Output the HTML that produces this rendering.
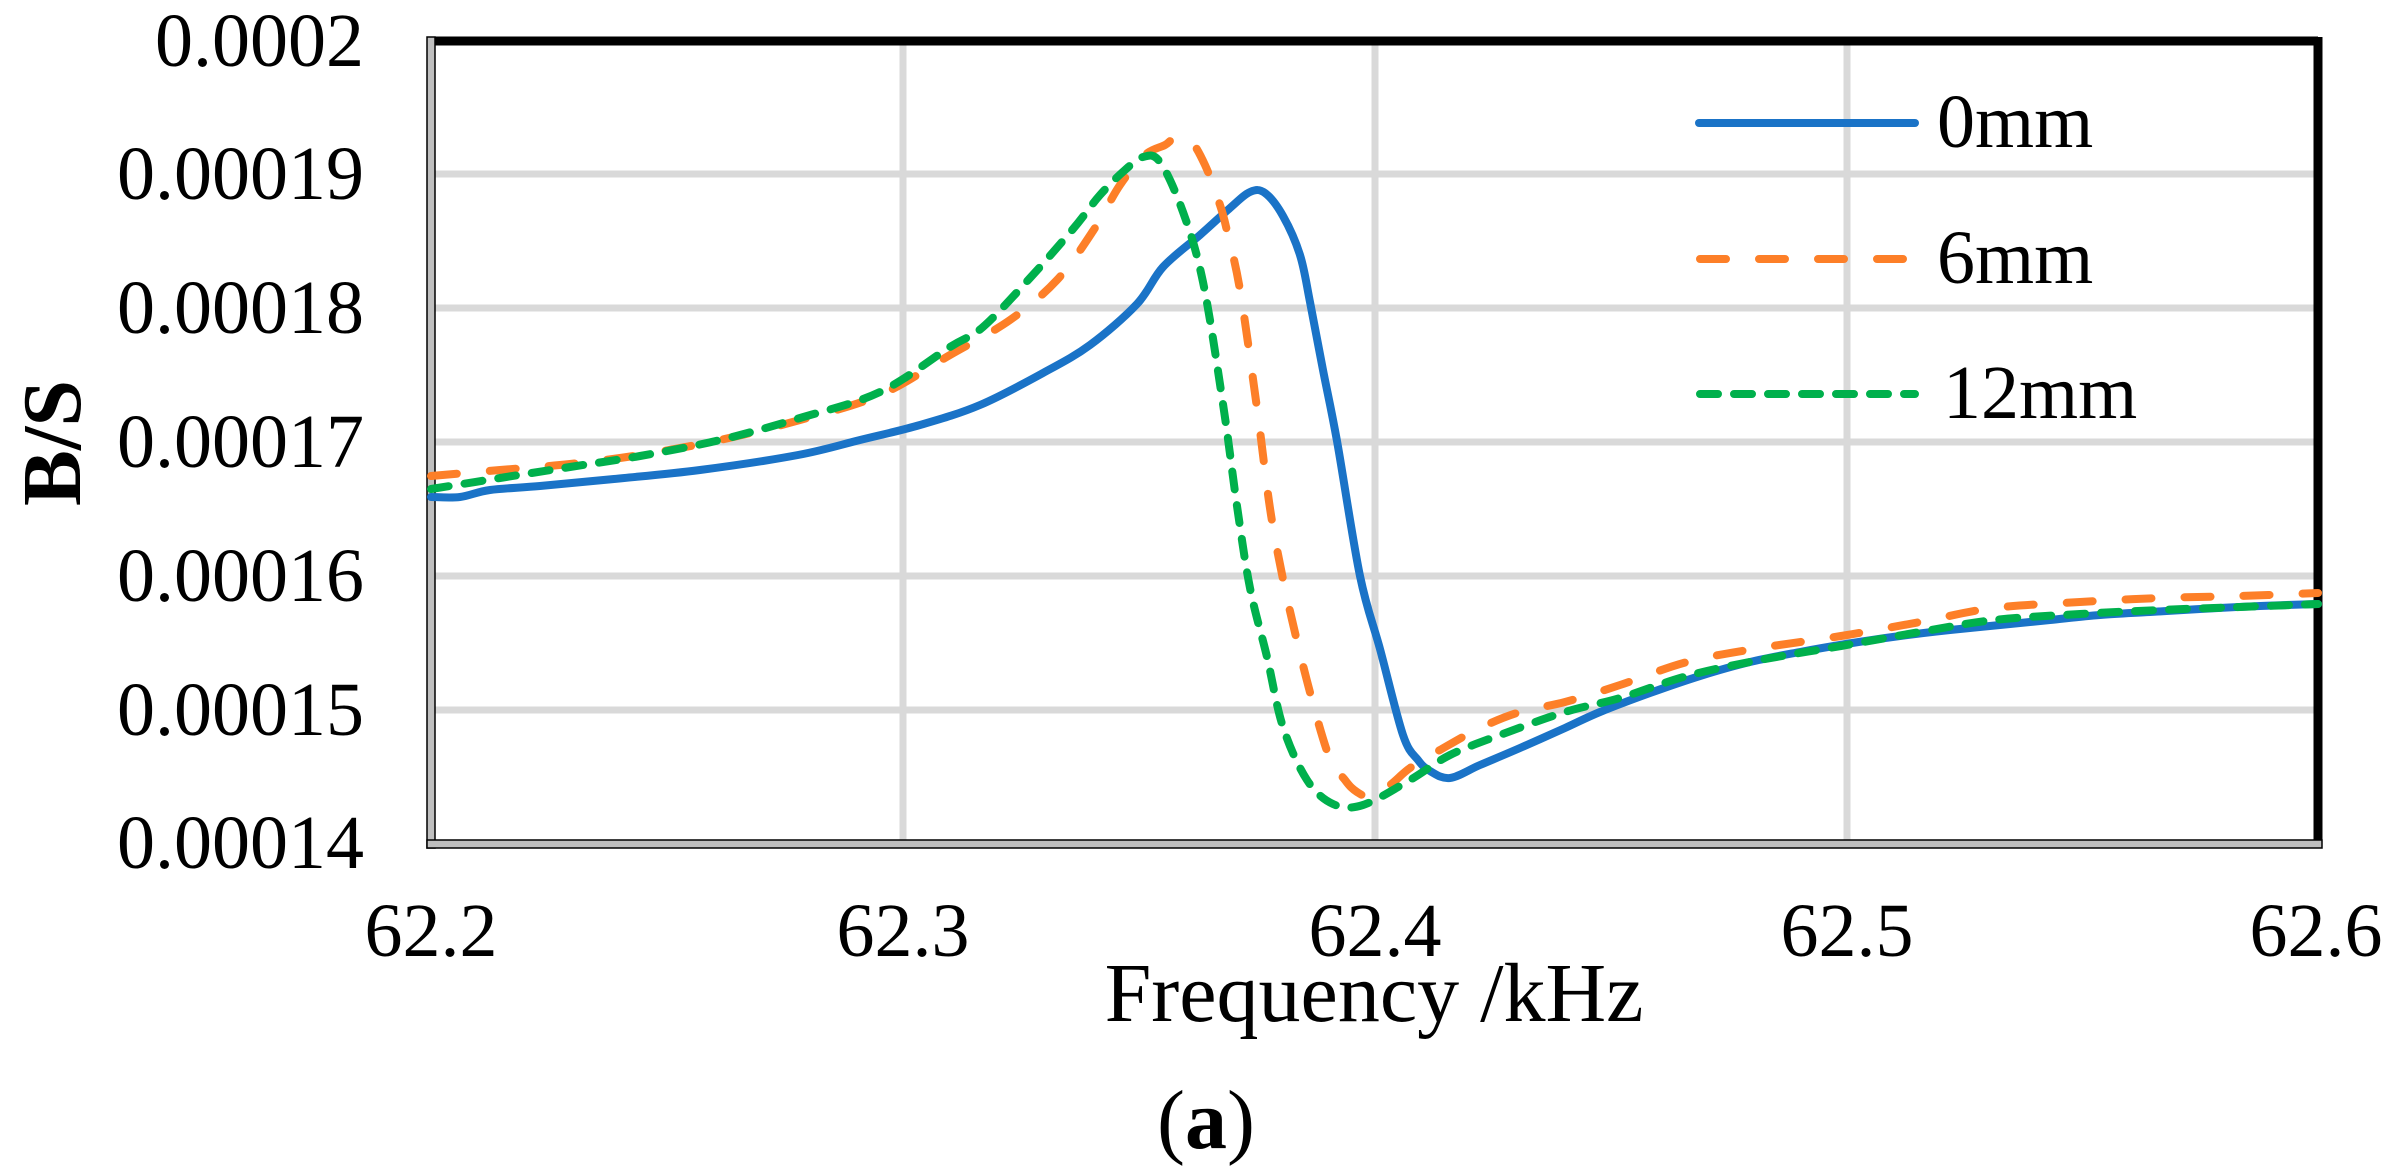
<!DOCTYPE html>
<html><head><meta charset="utf-8"><style>
html,body{margin:0;padding:0;background:#fff;}
svg{display:block;}
text{font-family:"Liberation Serif","Times New Roman",serif;fill:#000;}
</style></head><body>
<svg width="2405" height="1174" viewBox="0 0 2405 1174" xmlns="http://www.w3.org/2000/svg">
<rect width="2405" height="1174" fill="#fff"/>
<g stroke="#d9d9d9" stroke-width="7">
<line x1="431" y1="174" x2="2318" y2="174"/>
<line x1="431" y1="308" x2="2318" y2="308"/>
<line x1="431" y1="442" x2="2318" y2="442"/>
<line x1="431" y1="576" x2="2318" y2="576"/>
<line x1="431" y1="710" x2="2318" y2="710"/>
<line x1="903" y1="41" x2="903" y2="844"/>
<line x1="1375" y1="41" x2="1375" y2="844"/>
<line x1="1847" y1="41" x2="1847" y2="844"/>
</g>
<line x1="431" y1="41" x2="2318" y2="41" stroke="#000" stroke-width="9"/>
<line x1="2318" y1="37" x2="2318" y2="848" stroke="#000" stroke-width="9"/>
<rect x="427" y="37" width="8" height="811" fill="#bfbfbf" stroke="#000" stroke-width="1.5"/>
<rect x="427" y="840" width="1895" height="8" fill="#bfbfbf" stroke="#000" stroke-width="1.5"/>
<g fill="none" stroke-width="8" stroke-linecap="round" stroke-linejoin="round">
<path id="pb" stroke="#1a73c7" d=""/>
<path id="po" stroke="#fd7f28" stroke-dasharray="26 33" d=""/>
<path id="pg" stroke="#00b04c" stroke-dasharray="18 16" d=""/>
<line x1="1699" y1="123" x2="1915" y2="123" stroke="#1a73c7"/>
<line x1="1700" y1="259" x2="1910" y2="259" stroke="#fd7f28" stroke-dasharray="26 33"/>
<line x1="1700" y1="394" x2="1915" y2="394" stroke="#00b04c" stroke-dasharray="18 16"/>
</g>
<g font-size="76">
<text x="1937" y="147">0mm</text>
<text x="1937" y="283">6mm</text>
<text x="1943" y="418">12mm</text>
</g>
<g font-size="76" text-anchor="end">
<text x="364" y="66">0.0002</text>
<text x="364" y="199">0.00019</text>
<text x="364" y="333">0.00018</text>
<text x="364" y="467">0.00017</text>
<text x="364" y="601">0.00016</text>
<text x="364" y="735">0.00015</text>
<text x="364" y="868">0.00014</text>
</g>
<g font-size="76" text-anchor="middle">
<text x="431" y="956">62.2</text>
<text x="903" y="956">62.3</text>
<text x="1375" y="956">62.4</text>
<text x="1847" y="956">62.5</text>
<text x="2316" y="956">62.6</text>
</g>
<text x="1374" y="1021" font-size="84" text-anchor="middle">Frequency /kHz</text>
<text x="1206" y="1148" font-size="84" text-anchor="middle">(<tspan font-weight="bold">a</tspan>)</text>
<text transform="translate(80,443) rotate(-90)" font-size="84" font-weight="bold" text-anchor="middle">B/S</text>
</svg>
<script>
function sm(s){var p=s.trim().split(/\s+/).map(function(t){return t.split(',').map(Number);});
var d='M'+p[0][0]+','+p[0][1];
for(var i=0;i<p.length-1;i++){var a=p[i-1]||p[i],b=p[i],c=p[i+1],e=p[i+2]||c;
var c1x=b[0]+(c[0]-a[0])/6,c1y=b[1]+(c[1]-a[1])/6,c2x=c[0]-(e[0]-b[0])/6,c2y=c[1]-(e[1]-b[1])/6;
d+=' C'+c1x.toFixed(1)+','+c1y.toFixed(1)+' '+c2x.toFixed(1)+','+c2y.toFixed(1)+' '+c[0]+','+c[1];}
return d;}
document.getElementById('pb').setAttribute('d',sm("431,497 460,497 490,490 540,486 614,479 700,470 798,455 860,440 920,425 980,405 1043,373 1090,345 1137,304 1163,267 1200,235 1230,208 1250,192 1265,193 1283,216 1300,255 1310,302 1323,370 1337,441 1360,576 1380,649 1403,735 1418,760 1430,771 1450,778 1480,765 1520,748 1565,728 1600,712 1650,693 1700,676 1750,662 1800,652 1846,644 1900,636 1950,630 2000,625 2050,620 2100,615 2150,612 2200,609 2260,606 2318,604"));
document.getElementById('po').setAttribute('d',sm("431,476 500,470 570,464 640,455 720,440 800,420 880,395 950,355 1010,320 1057,280 1093,231 1120,185 1145,155 1165,145 1175,138 1190,140 1205,165 1220,205 1227,231 1240,290 1257,408 1273,527 1297,641 1327,751 1345,780 1357,792 1370,796 1390,785 1410,768 1440,750 1480,728 1520,712 1565,702 1620,685 1687,662 1760,648 1841,636 1920,622 1994,608 2080,602 2160,598 2240,596 2318,593"));
document.getElementById('pg').setAttribute('d',sm("431,489 500,478 570,467 640,456 720,440 800,418 880,392 950,347 983,327 1030,278 1073,229 1100,195 1125,170 1143,157 1160,162 1183,212 1203,282 1223,404 1237,506 1250,588 1267,657 1283,727 1307,780 1333,804 1363,805 1410,780 1450,755 1500,735 1565,712 1620,698 1687,676 1760,660 1841,646 1920,632 1994,620 2080,614 2160,610 2240,607 2318,604"));
</script>
</body></html>
